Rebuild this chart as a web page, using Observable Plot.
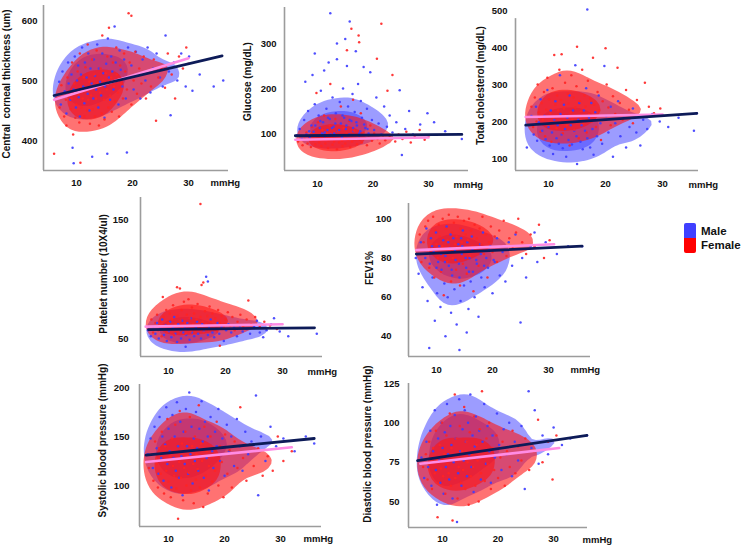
<!DOCTYPE html>
<html><head><meta charset="utf-8">
<script src="https://cdn.jsdelivr.net/npm/d3@7"></script>
<script src="https://cdn.jsdelivr.net/npm/@observablehq/plot@0.6"></script>
<style>
body{margin:0;background:#fff;}
#fig{position:relative;width:742px;height:545px;overflow:hidden;background:#fff;font-family:"Liberation Sans",Arial,sans-serif;}
#fig svg{position:absolute;overflow:visible;}
.sw{position:absolute;left:684px;width:12px;height:15px;}
.lt{position:absolute;left:701px;font:bold 11.5px "Liberation Sans",Arial,sans-serif;color:#111;line-height:14px;}
</style></head><body>
<div id="fig">
<div class="sw" style="top:223px;background:#3f3fff;border-radius:2px 2px 0 0"></div>
<div class="sw" style="top:238px;background:#ff0000;border-radius:0 0 2px 2px"></div>
<div class="lt" style="top:224px">Male</div>
<div class="lt" style="top:238px">Female</div>
</div>
<script>
// ---- x ticks (IOP, mmHg)
const xTicks = [10, 20, 30];

// ---- Central corneal thickness (um)
const cctFemale = [[6.5,470],[7.0,455],[7.3,492],[6.0,378],[7.8,440],[8.1,468],[8.4,505],[8.2,425],[8.7,482],[9.0,452],[9.2,530],[9.4,410],[9.1,470],[9.6,495],[9.8,438],[10.0,460],[10.2,515],[10.3,478],[10.5,430],[10.6,545],[10.8,490],[10.9,455],[10.7,363],[11.1,470],[11.3,505],[11.4,440],[11.6,522],[11.7,485],[11.9,450],[12.0,560],[12.1,468],[12.3,498],[12.4,428],[12.6,475],[12.8,535],[12.9,452],[13.0,488],[13.2,510],[13.3,440],[13.5,470],[13.6,550],[13.8,495],[13.9,460],[14.0,425],[14.2,480],[14.3,520],[14.5,445],[14.6,575],[14.8,500],[14.9,468],[15.0,435],[15.2,512],[15.4,485],[15.5,540],[15.7,455],[15.8,588],[16.0,475],[16.2,505],[16.3,448],[16.5,530],[16.7,490],[16.9,465],[17.1,555],[17.2,510],[17.4,480],[17.6,440],[17.8,525],[18.0,495],[18.3,470],[18.5,545],[18.7,515],[19.0,485],[19.3,612],[19.5,530],[19.8,460],[19.8,608],[20.2,500],[20.5,548],[20.8,478],[21.2,520],[21.6,495],[22.0,540],[22.4,470],[22.8,515],[23.3,490],[23.8,535],[24.2,433],[24.6,505],[25.2,520],[25.8,488],[26.3,545],[27.0,510],[27.6,470],[28.3,540],[29.0,520],[29.6,555],[30.0,528]];
const cctMale = [[6.3,475],[6.9,498],[7.2,460],[7.5,515],[7.9,482],[8.2,445],[8.5,530],[8.6,495],[8.9,468],[9.1,510],[9.3,388],[9.5,362],[9.5,485],[9.7,540],[9.9,455],[10.1,500],[10.3,525],[10.4,472],[10.6,440],[10.8,510],[11.0,555],[11.2,490],[11.4,462],[11.5,530],[11.8,505],[12.0,478],[12.1,545],[12.3,450],[12.5,520],[12.7,495],[12.8,373],[13.0,470],[13.1,535],[13.3,508],[13.5,485],[13.7,560],[13.9,455],[14.0,520],[14.2,498],[14.4,475],[14.6,545],[14.8,512],[15.0,438],[15.1,490],[15.3,528],[15.5,378],[15.6,570],[15.8,505],[16.0,468],[16.2,540],[16.4,515],[16.6,485],[16.8,590],[17.0,530],[17.2,500],[17.5,460],[17.7,550],[17.9,518],[18.2,490],[18.5,535],[18.8,470],[19.0,380],[19.2,555],[19.5,505],[19.8,525],[20.2,485],[20.6,548],[21.0,510],[21.4,470],[21.8,535],[22.3,500],[22.7,555],[23.2,480],[23.7,520],[24.3,545],[24.9,505],[25.4,490],[25.9,575],[26.5,515],[26.8,442],[27.4,530],[28.0,500],[28.7,545],[29.5,490],[30.1,540],[30.7,483],[32.0,510],[34.5,490],[36.2,500]];
const cctFitMale = [[6,475],[36,541]];
const cctFitFemale = [[6,468],[30,537]];
const cctTicks = [400, 500, 600];

// ---- Glucose (mg/dL)
const glucFemale = [[6.5,82],[7.0,95],[7.3,74],[7.7,88],[8.0,102],[8.2,78],[8.5,92],[8.8,70],[9.0,115],[9.2,85],[9.4,98],[9.6,76],[9.8,190],[10.0,88],[10.1,125],[10.3,80],[10.5,95],[10.7,72],[10.9,108],[11.0,86],[11.2,140],[11.4,78],[11.5,92],[11.7,100],[11.9,68],[12.0,85],[12.2,118],[12.3,210],[12.5,90],[12.7,75],[12.9,98],[13.0,82],[13.2,132],[13.4,88],[13.5,65],[13.7,105],[13.9,80],[14.0,95],[14.2,160],[14.4,84],[14.5,72],[14.7,112],[14.9,90],[15.0,78],[15.2,100],[15.3,285],[15.5,86],[15.7,128],[15.9,70],[16.0,94],[16.2,82],[16.4,175],[16.6,106],[16.8,88],[16.1,333],[17.1,76],[17.3,98],[17.4,318],[17.6,86],[17.8,145],[18.0,80],[17.5,303],[18.3,102],[18.6,90],[18.9,74],[19.2,95],[19.5,118],[19.8,84],[20.2,100],[20.7,266],[20.8,88],[21.2,78],[21.5,344],[21.8,96],[22.2,85],[22.6,195],[23.0,92],[23.5,230],[24.0,82],[24.6,98],[25.3,88],[26.0,104],[26.8,80],[27.5,92],[28.4,108],[29.3,86],[30.0,95]];
const glucMale = [[6.3,96],[6.8,110],[7.2,88],[7.6,130],[7.8,215],[8.0,98],[8.3,150],[8.6,92],[8.9,118],[9.1,230],[9.3,104],[9.5,165],[9.5,278],[9.9,95],[10.2,140],[10.4,112],[10.6,195],[10.8,100],[11.0,125],[11.2,240],[11.4,90],[11.6,155],[11.8,108],[12.0,258],[12.2,132],[12.4,98],[12.3,367],[12.7,180],[12.9,115],[13.1,95],[13.3,145],[13.5,265],[13.6,105],[13.5,300],[14.0,170],[14.2,122],[14.4,92],[14.6,200],[14.8,135],[15.0,310],[15.1,110],[15.3,250],[15.5,160],[15.7,98],[15.8,349],[16.1,128],[16.3,188],[16.5,105],[16.7,148],[16.9,283],[17.1,118],[17.3,210],[17.5,95],[17.8,172],[18.0,135],[18.3,248],[18.6,112],[18.9,155],[19.2,100],[19.5,236],[19.8,130],[20.2,108],[20.6,180],[21.0,122],[21.5,98],[22.0,160],[22.5,115],[23.0,140],[23.5,102],[24.2,125],[24.8,196],[25.2,52],[25.8,110],[26.5,150],[27.2,98],[28.5,120],[29.8,145],[31.0,125],[33.0,105],[36.0,88],[8.5,105],[9.6,118],[10.5,128],[11.3,102],[11.9,135],[12.6,112],[13.2,122],[13.9,108],[14.5,140],[15.2,118],[15.8,130],[16.4,112],[17.0,125],[17.7,105],[18.4,120],[19.0,110],[11.0,98],[13.0,100],[15.5,96],[17.5,100]];
const glucFitMale = [[6,95],[36,98]];
const glucFitFemale = [[6,86],[30,91]];
const glucTicks = [100, 200, 300];

// ---- Total cholesterol (mg/dL)
const cholFemale = [[6.5,212],[7.0,240],[7.3,185],[7.6,265],[7.9,200],[8.1,300],[8.3,225],[8.6,172],[8.8,250],[9.0,205],[9.2,280],[9.4,160],[9.6,232],[9.8,318],[10.0,195],[10.1,260],[10.3,222],[10.5,145],[10.7,290],[10.9,210],[11.0,380],[11.2,245],[11.4,182],[11.5,270],[11.7,230],[11.9,340],[12.0,200],[12.2,258],[12.3,382],[12.5,168],[12.7,235],[12.9,305],[13.0,215],[13.2,190],[13.4,275],[13.5,248],[13.7,135],[13.9,225],[14.0,325],[14.2,205],[14.4,265],[14.5,178],[14.7,238],[14.9,295],[15.0,402],[15.1,212],[15.3,155],[15.5,255],[15.7,228],[15.9,340],[16.1,195],[16.3,270],[16.5,240],[16.7,170],[16.9,310],[17.1,220],[17.3,262],[17.6,200],[17.8,372],[18.0,245],[18.3,185],[18.6,280],[18.9,230],[19.2,150],[19.5,255],[19.8,205],[20.0,398],[20.2,300],[20.5,238],[20.9,190],[21.3,268],[21.7,220],[22.1,345],[22.5,250],[23.0,205],[23.6,285],[24.1,232],[24.8,195],[25.5,258],[26.2,215],[26.9,305],[27.6,240],[28.5,222],[29.6,235]];
const cholMale = [[6.2,130],[6.6,190],[7.0,215],[7.4,165],[7.8,240],[8.0,148],[8.3,198],[8.6,260],[8.9,175],[9.1,120],[9.3,215],[9.5,152],[9.8,285],[10.0,185],[10.2,135],[10.4,230],[10.6,170],[10.8,112],[11.0,205],[11.2,255],[11.4,155],[11.6,190],[11.8,140],[12.0,325],[12.1,220],[12.3,165],[12.5,128],[12.7,245],[12.9,180],[13.1,105],[13.3,210],[13.5,150],[13.7,270],[13.9,190],[14.1,138],[14.3,230],[14.5,175],[14.7,352],[14.9,160],[15.0,85],[15.2,205],[15.4,250],[15.6,145],[15.8,190],[16.0,125],[16.2,230],[16.4,175],[16.6,290],[16.8,155],[16.8,503],[17.1,210],[17.3,130],[17.5,250],[17.7,180],[17.9,110],[18.2,225],[18.5,160],[18.8,270],[19.1,195],[19.4,140],[19.8,350],[20.1,215],[20.5,170],[20.9,240],[21.3,105],[21.7,195],[22.2,255],[22.6,160],[23.2,210],[23.6,130],[24.2,185],[24.8,235],[25.4,170],[26.1,135],[26.6,205],[27.3,180],[28.2,220],[29.5,200],[31.0,185],[32.8,210],[35.5,175],[36.0,222]];
const cholFitMale = [[6,190],[36,222]];
const cholFitFemale = [[6,212],[30,219]];
const cholTicks = [100, 200, 300, 400, 500];

// ---- Platelet number (10X4/ul)
const pltFemale = [[6.5,60],[7.0,66],[7.3,55],[7.7,63],[8.0,70],[8.2,57],[8.5,64],[8.8,52],[9.0,85],[9.1,68],[9.4,60],[9.6,74],[9.8,55],[10.0,63],[10.2,71],[10.4,58],[10.6,66],[10.8,78],[11.0,53],[11.2,62],[11.5,93],[11.6,69],[11.8,57],[12.0,92],[12.1,65],[12.3,74],[12.5,59],[12.7,81],[12.9,63],[13.0,54],[13.2,70],[13.4,61],[13.5,83],[13.7,67],[13.9,56],[14.1,76],[14.3,62],[14.5,71],[14.7,58],[14.9,66],[15.1,79],[15.3,60],[15.6,163],[15.6,68],[15.8,95],[16.0,64],[16.1,97],[16.2,55],[16.4,73],[16.6,62],[16.8,69],[17.0,58],[17.2,77],[17.4,64],[17.7,71],[18.0,60],[18.2,67],[18.5,56],[18.7,74],[19.0,63],[19.0,44],[19.3,69],[19.7,59],[20.0,66],[20.4,72],[20.8,61],[21.2,68],[21.6,57],[22.1,64],[22.6,70],[23.1,60],[23.7,66],[24.0,82],[24.5,62],[25.2,68],[26.0,60],[26.8,64],[27.8,61],[29.0,58]];
const pltMale = [[6.4,57],[6.9,52],[7.3,60],[7.7,54],[8.0,63],[8.3,50],[8.6,58],[8.9,66],[9.2,53],[9.5,61],[9.7,48],[10.0,56],[10.3,64],[10.5,51],[10.8,59],[11.0,68],[11.2,54],[11.5,47],[11.7,62],[12.0,57],[12.2,50],[12.4,65],[12.6,55],[12.8,60],[13.0,43],[13.1,53],[13.3,63],[13.5,58],[13.7,49],[13.9,67],[14.1,55],[14.3,61],[14.5,52],[14.8,59],[15.0,64],[15.2,54],[15.4,58],[15.7,50],[15.9,62],[16.2,56],[16.6,102],[16.9,98],[16.9,53],[17.1,60],[17.4,66],[17.7,55],[18.0,51],[18.3,58],[18.6,63],[18.9,54],[19.3,60],[19.7,48],[20.1,57],[20.5,62],[21.0,55],[21.5,59],[22.0,52],[22.5,61],[23.0,56],[23.7,58],[24.3,54],[25.0,60],[25.5,65],[26.0,55],[26.6,51],[27.2,57],[28.0,62],[28.5,67],[29.5,56],[31.0,52],[36.0,54]];
const pltFitMale = [[6.5,57.5],[35.6,59]];
const pltFitFemale = [[6,60],[30,62]];
const pltTicks = [50, 100, 150];

// ---- FEV1%
const fevFemale = [[6.6,84],[7.0,92],[7.3,78],[7.7,88],[8.0,96],[8.2,82],[8.5,99],[8.7,75],[9.0,90],[9.2,85],[9.4,101],[9.6,70],[9.8,94],[10.0,87],[10.2,80],[10.4,97],[10.6,91],[10.8,73],[11.0,86],[11.1,100],[11.3,61],[11.5,83],[11.7,95],[11.9,78],[12.0,89],[12.2,102],[12.4,84],[12.6,68],[12.8,93],[12.9,80],[13.1,98],[13.3,87],[13.5,74],[13.6,91],[13.8,101],[14.0,83],[14.2,66],[14.3,95],[14.5,88],[14.7,77],[14.9,99],[15.0,85],[15.2,92],[15.4,72],[15.6,89],[15.8,100],[16.0,81],[16.2,94],[16.4,86],[16.6,63],[16.8,97],[17.0,84],[17.2,90],[17.5,76],[17.7,95],[18.0,87],[18.2,101],[18.5,82],[18.8,92],[19.1,70],[19.4,88],[19.7,96],[20.0,83],[20.4,91],[20.8,78],[21.2,94],[21.6,86],[22.0,99],[22.5,81],[23.0,90],[23.6,85],[24.2,93],[24.6,100],[25.3,88],[26.0,82],[26.8,92],[27.5,86],[28.3,97],[29.2,80],[30.2,89]];
const fevMale = [[6.3,80],[6.8,72],[7.2,88],[7.5,65],[7.9,84],[8.2,95],[8.4,58],[8.7,34],[8.8,77],[9.0,90],[9.3,70],[9.5,83],[9.7,48],[9.9,93],[10.1,62],[10.3,78],[10.5,86],[10.7,55],[10.9,74],[11.6,40],[11.2,89],[11.4,67],[11.6,81],[11.8,96],[12.0,60],[12.2,76],[12.4,85],[12.6,52],[12.8,71],[13.0,90],[13.2,64],[13.4,79],[13.6,46],[14.1,33],[13.9,87],[14.1,70],[14.3,58],[14.5,82],[14.7,94],[14.9,66],[15.4,42],[15.3,75],[15.5,88],[15.7,54],[15.9,80],[16.1,68],[16.3,91],[16.5,73],[16.8,60],[17.0,84],[17.2,77],[17.5,50],[17.8,87],[18.0,70],[18.3,93],[18.6,65],[18.9,80],[19.2,75],[19.6,86],[20.0,62],[20.4,78],[20.8,90],[21.3,71],[21.8,83],[22.3,68],[22.9,88],[23.5,76],[24.1,92],[25.0,47],[25.3,80],[26.0,70],[26.8,86],[27.5,93],[28.0,78],[29.5,88],[31.5,82],[33.5,86],[36.0,86],[8.0,80],[9.2,86],[10.0,75],[10.8,82],[11.5,78],[12.1,88],[12.7,74],[13.3,84],[14.0,77],[14.6,86],[15.2,80],[15.8,73],[16.4,84],[17.1,79],[17.9,82],[18.5,76],[19.4,84],[20.2,79],[12.5,92],[14.4,90]];
const fevFitMale = [[6.4,82],[36,86]];
const fevFitFemale = [[6.4,84],[31,87]];
const fevTicks = [40, 60, 80, 100];

// ---- Systolic blood pressure (mmHg)
const sbpFemale = [[6.5,118],[7.0,132],[7.3,105],[7.6,145],[7.9,122],[8.1,98],[8.3,138],[8.6,112],[8.8,155],[9.0,126],[9.2,92],[9.4,140],[9.6,115],[9.8,168],[10.0,104],[10.2,130],[10.4,88],[10.6,148],[10.8,120],[11.0,110],[11.2,162],[11.4,97],[11.5,135],[11.7,66],[11.9,124],[12.0,176],[12.2,108],[12.4,143],[12.6,85],[12.8,118],[13.0,155],[13.2,100],[13.4,130],[13.6,113],[13.8,170],[14.0,95],[14.2,140],[14.4,122],[14.5,82],[14.7,150],[14.9,106],[15.0,132],[15.2,117],[15.4,182],[15.6,98],[15.8,143],[16.0,125],[16.2,78],[16.4,160],[16.6,110],[16.8,135],[17.0,92],[17.2,120],[17.5,150],[17.8,104],[18.0,130],[18.3,115],[18.6,165],[18.9,100],[19.2,140],[19.5,124],[19.8,88],[20.1,152],[20.5,112],[20.9,136],[21.3,98],[21.8,145],[22.3,118],[22.8,180],[23.3,128],[23.9,105],[24.5,142],[25.2,120],[26.0,138],[26.8,110],[27.7,130],[28.6,115],[29.5,150],[30.5,125],[32.0,135]];
const sbpMale = [[6.3,132],[6.8,148],[7.2,118],[7.5,160],[7.9,138],[8.2,112],[8.4,170],[8.7,128],[8.9,150],[9.1,105],[9.4,142],[9.6,180],[9.8,122],[10.0,158],[10.2,135],[10.5,98],[10.7,172],[10.9,128],[11.1,150],[11.3,115],[11.5,185],[11.7,140],[11.9,108],[12.1,165],[12.3,130],[12.5,90],[12.7,155],[12.9,122],[13.1,178],[13.3,140],[13.5,112],[13.7,195],[13.9,132],[14.1,160],[14.3,102],[14.5,148],[14.7,125],[14.9,175],[15.1,138],[15.3,115],[15.5,158],[15.7,130],[15.9,186],[16.1,145],[16.3,108],[16.5,165],[16.8,128],[17.0,150],[17.2,95],[17.5,170],[17.8,135],[18.0,118],[18.3,155],[18.6,140],[18.9,178],[19.2,125],[19.6,148],[20.0,110],[20.4,162],[20.8,135],[21.2,150],[21.7,120],[22.2,168],[22.7,140],[23.2,115],[23.7,155],[24.2,132],[24.8,145],[25.6,192],[26.0,90],[26.5,150],[27.3,125],[28.2,160],[29.2,140],[30.5,148],[32.5,135],[34.5,150],[36.0,143]];
const sbpFitMale = [[6,131],[36,148]];
const sbpFitFemale = [[6,124],[32,139]];
const sbpTicks = [100, 150, 200];

// ---- Diastolic blood pressure (mmHg)
const dbpFemale = [[6.5,72],[7.0,80],[7.3,64],[7.6,88],[7.9,75],[8.1,58],[8.3,84],[8.6,68],[8.8,95],[9.0,76],[9.1,40],[9.3,62],[9.5,86],[9.7,71],[9.9,100],[10.1,66],[10.3,80],[10.5,55],[10.7,92],[10.9,74],[11.1,68],[11.3,106],[11.5,60],[11.6,84],[11.8,38],[12.0,77],[12.2,118],[12.3,65],[12.5,90],[12.7,52],[12.9,72],[13.1,98],[13.3,62],[13.5,82],[13.7,70],[13.9,110],[14.1,58],[14.3,88],[14.5,75],[14.7,48],[14.9,94],[15.1,66],[15.3,80],[15.5,72],[15.7,104],[15.9,60],[16.1,86],[16.3,76],[16.5,50],[16.7,96],[16.9,68],[17.1,120],[17.3,82],[17.6,63],[17.9,90],[18.1,74],[18.4,100],[18.7,58],[19.0,84],[19.3,70],[19.7,92],[20.0,65],[20.4,78],[20.8,88],[21.2,60],[21.6,82],[22.1,72],[22.6,95],[23.1,68],[23.6,85],[24.2,76],[24.9,90],[25.6,70],[26.4,82],[27.2,102],[28.0,75],[29.0,88],[29.8,64],[30.5,92]];
const dbpMale = [[6.2,78],[6.7,65],[7.1,88],[7.4,72],[7.8,95],[8.0,60],[8.3,82],[8.6,108],[8.8,70],[9.0,48],[9.2,90],[9.4,76],[9.6,62],[9.8,100],[10.0,84],[10.2,55],[10.4,94],[10.6,72],[10.8,112],[11.0,80],[11.2,64],[11.4,98],[11.6,86],[11.8,52],[12.0,75],[12.2,105],[12.4,90],[12.6,37],[12.8,68],[13.0,115],[13.2,82],[13.4,60],[13.6,96],[13.8,76],[14.0,108],[14.2,88],[14.4,66],[14.6,100],[14.8,80],[15.0,118],[15.2,72],[15.4,92],[15.6,56],[15.8,85],[16.0,104],[16.3,78],[16.6,95],[16.9,64],[17.2,88],[17.5,112],[17.8,74],[18.1,98],[18.4,82],[18.7,62],[19.0,92],[19.4,78],[19.8,106],[20.2,86],[20.6,70],[21.0,96],[21.5,80],[22.0,100],[22.5,66],[23.0,88],[23.6,76],[24.2,98],[24.8,58],[25.5,120],[26.0,84],[26.6,108],[27.3,74],[28.0,92],[29.0,80],[30.0,97],[31.5,86],[33.0,90],[36.0,92]];
const dbpFitMale = [[5.5,76],[36,92]];
const dbpFitFemale = [[6,74],[31,84]];
const dbpTicks = [50, 75, 100, 125];

// ---- colours
const maleDot = "#3c3cff", femaleDot = "#ff2424";
const maleCloud = "#3a3aff", femaleCloud = "#ff1414";
const maleLine = "#0d1b58", femaleLine = "#ff8ce4";

// ---- layout (frame edges in page px, domains, label positions)
const panels = [
  {label:"Central  corneal thickness (um)", m:cctMale, f:cctFemale, fm:cctFitMale, ff:cctFitFemale, ticks:cctTicks,
   L:43, R:228, T:5, B:170, xd:[4.11,37.14], yd:[350,625], yp:6, xp:9, lab:[6.5,83.5], mm:[210,182.5]},
  {label:"Glucose (mg/dL)", m:glucMale, f:glucFemale, fm:glucFitMale, ff:glucFitFemale, ticks:glucTicks,
   L:284, R:468, T:7, B:170, xd:[4.05,37.2], yd:[17.8,380], yp:8, xp:10, lab:[247.5,81], mm:[453,184]},
  {label:"Total cholesterol (mg/dL)", m:cholMale, f:cholFemale, fm:cholFitMale, ff:cholFitFemale, ticks:cholTicks,
   L:515, R:698, T:5, B:170, xd:[4.21,36.3], yd:[67.6,513.5], axisTop:478, yp:8, xp:10, lab:[480,85], mm:[688,184]},
  {label:"Platelet number (10X4/ul)", m:pltMale, f:pltFemale, fm:pltFitMale, ff:pltFitFemale, ticks:pltTicks,
   L:140, R:322, T:197, B:356, xd:[5.09,37.0], yd:[34.9,168.5], yp:12, xp:11, lab:[103,273.5], mm:[307,371]},
  {label:"FEV1%", m:fevMale, f:fevFemale, fm:fevFitMale, ff:fevFitFemale, ticks:fevTicks,
   L:408, R:590, T:203, B:356, xd:[5.0,37.5], yd:[29.7,107.8], yp:17, xp:10, lab:[369,267.5], mm:[570,369]},
  {label:"Systolic blood pressure (mmHg)", m:sbpMale, f:sbpFemale, fm:sbpFitMale, ff:sbpFitFemale, ticks:sbpTicks,
   L:139, R:321, T:384, B:526, xd:[4.82,37.3], yd:[58.2,203.1], yp:10, xp:9, lab:[102,440], mm:[303,538]},
  {label:"Diastolic blood pressure (mmHg)", m:dbpMale, f:dbpFemale, fm:dbpFitMale, ff:dbpFitFemale, ticks:dbpTicks,
   L:408, R:587, T:383, B:527, xd:[3.87,36.1], yd:[33.5,125], yp:9, xp:8, lab:[367.5,443.5], mm:[582,539]}
];

const fig = document.getElementById("fig");
const ml = 50, mr = 45, mt = 10, mb = 26;

for (const p of panels) {
  const mix = [];
  const n = Math.max(p.m.length, p.f.length);
  for (let i = 0; i < n; i++) {
    if (p.f[i]) mix.push({x: p.f[i][0], y: p.f[i][1], c: femaleDot});
    if (p.m[i]) mix.push({x: p.m[i][0], y: p.m[i][1], c: maleDot});
  }
  const cloud = (data, color, op) => Plot.density(data, {
    x: d => d[0], y: d => d[1], fill: color, fillOpacity: op, stroke: "none",
    bandwidth: 10, thresholds: 3
  });
  const svg = Plot.plot({
    width: p.R - p.L + ml + mr,
    height: p.B - p.T + mt + mb,
    marginLeft: ml, marginRight: mr, marginTop: mt, marginBottom: mb,
    x: {domain: p.xd},
    y: {domain: p.yd},
    color: {type: "identity"},
    style: {background: "transparent", fontFamily: "'Liberation Sans', Arial, sans-serif", fontSize: "9.5px", fontWeight: "bold", color: "#111", overflow: "visible"},
    marks: [
      cloud(p.m, maleCloud, 0.5),
      cloud(p.f, femaleCloud, 0.6),
      Plot.dot(mix, {x: "x", y: "y", fill: "c", r: 1.25, stroke: "none", fillOpacity: 0.9}),
      Plot.ruleX([p.xd[0]], {y1: p.yd[0], y2: p.axisTop ?? p.yd[1], stroke: "#9c9c9c", strokeWidth: 1.6}),
      Plot.ruleY([p.yd[0]], {x1: p.xd[0], x2: p.xd[1], stroke: "#9c9c9c", strokeWidth: 1.6}),
      Plot.line(p.ff, {x: d => d[0], y: d => d[1], stroke: femaleLine, strokeWidth: 2.6}),
      Plot.line(p.fm, {x: d => d[0], y: d => d[1], stroke: maleLine, strokeWidth: 2.8}),
      Plot.axisX({ticks: xTicks, tickSize: 0, tickPadding: p.xp, label: null}),
      Plot.axisY({ticks: p.ticks, tickSize: 0, tickPadding: p.yp, label: null}),
      Plot.text([p.label], {text: d => d, frameAnchor: "left", rotate: -90, textAnchor: "middle", lineAnchor: "middle",
        dx: p.lab[0] - p.L, dy: p.lab[1] - (p.T + p.B) / 2, fontSize: 10, fontWeight: "bold", fill: "#111"}),
      Plot.text(["mmHg"], {text: d => d, frameAnchor: "bottom-right", textAnchor: "start", lineAnchor: "middle",
        dx: p.mm[0] - p.R, dy: p.mm[1] - p.B, fontSize: 9.5, fontWeight: "bold", fill: "#111"})
    ]
  });
  svg.style.left = (p.L - ml) + "px";
  svg.style.top = (p.T - mt) + "px";
  fig.appendChild(svg);
}
</script>
</body></html>
